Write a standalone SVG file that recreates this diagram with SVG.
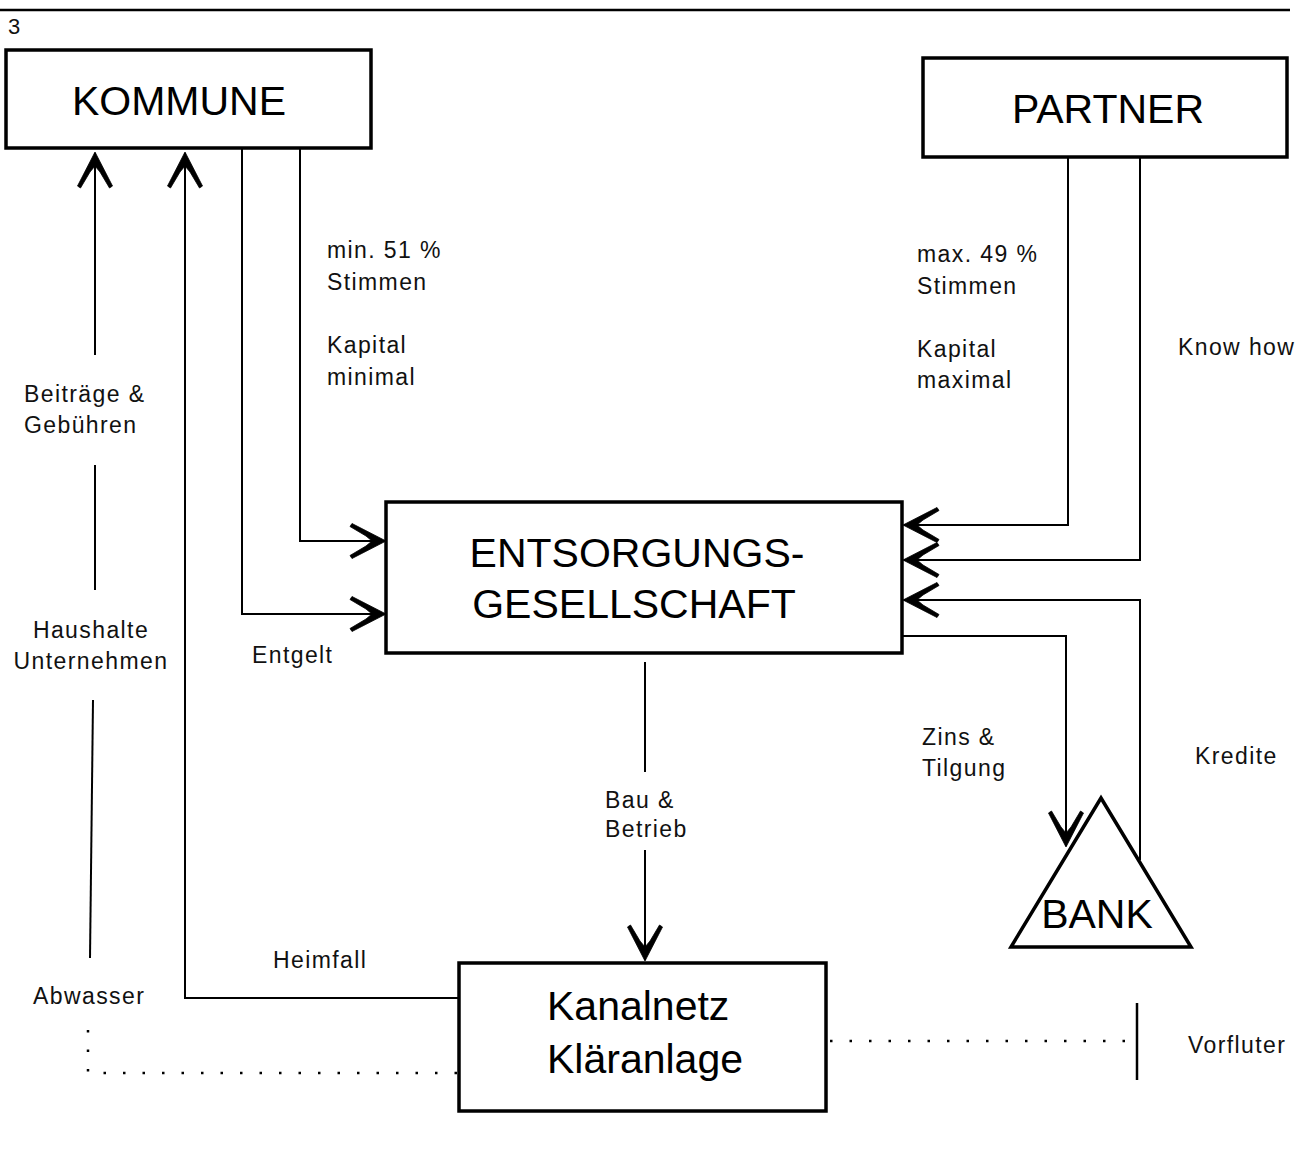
<svg xmlns="http://www.w3.org/2000/svg" width="1305" height="1168" viewBox="0 0 1305 1168">
<defs>
<style>
.box{fill:#fff;stroke:#000;stroke-width:3.5}
.ln{fill:none;stroke:#000;stroke-width:2}
.dot{fill:none;stroke:#000;stroke-width:2.5;stroke-dasharray:2.5 17}
.big{font-family:"Liberation Sans",Arial,sans-serif;font-size:41px;fill:#000}
.lbl{font-family:"Liberation Sans",Arial,sans-serif;font-size:23px;letter-spacing:1.4px;fill:#111}
</style>
<marker id="arr" viewBox="-38 -20 42 40" refX="0" refY="0" markerWidth="42" markerHeight="40" markerUnits="userSpaceOnUse" orient="auto">
<path d="M1,0 L-33,-17.5 L-35,-14.5 L-19,-5 L-13,0 L-19,5 L-35,14.5 L-33,17.5 Z" fill="#000" stroke="#000" stroke-width="0.8" stroke-linejoin="round"/>
</marker>
</defs>
<rect width="1305" height="1168" fill="#fff"/>
<line x1="0" y1="10" x2="1290" y2="10" stroke="#000" stroke-width="2.5"/>
<text x="8" y="34" class="lbl" style="font-size:22px">3</text>

<g id="connectors">
<line class="ln" x1="95" y1="355" x2="95" y2="153" marker-end="url(#arr)"/>
<line class="ln" x1="95" y1="465" x2="95" y2="590"/>
<line class="ln" x1="93" y1="700" x2="90" y2="958"/>
<polyline class="dot" points="88,1030 88,1073 459,1073"/>
<polyline class="ln" points="459,998 185,998 185,153" marker-end="url(#arr)"/>
<polyline class="ln" points="242,148 242,614 385,614" marker-end="url(#arr)"/>
<polyline class="ln" points="300,148 300,541 385,541" marker-end="url(#arr)"/>
<polyline class="ln" points="1068,157 1068,525 904,525" marker-end="url(#arr)"/>
<polyline class="ln" points="1140,157 1140,560 904,560" marker-end="url(#arr)"/>
<polyline class="ln" points="1140,860 1140,600 904,600" marker-end="url(#arr)"/>
<polyline class="ln" points="902,636 1066,636 1066,846" marker-end="url(#arr)"/>
<line class="ln" x1="645" y1="662" x2="645" y2="772"/>
<line class="ln" x1="645" y1="850" x2="645" y2="960" marker-end="url(#arr)"/>
<line class="dot" x1="830" y1="1041" x2="1130" y2="1041"/>
<line x1="1137" y1="1003" x2="1137" y2="1080" stroke="#000" stroke-width="2.5"/>
</g>

<g id="kommune">
<rect class="box" x="6" y="50" width="365" height="98"/>
<text class="big" x="179" y="115" text-anchor="middle">KOMMUNE</text>
</g>
<g id="partner">
<rect class="box" x="923" y="58" width="364" height="99"/>
<text class="big" x="1108" y="123" text-anchor="middle">PARTNER</text>
</g>
<g id="entsorgung">
<rect class="box" x="386" y="502" width="516" height="151"/>
<text class="big" x="637" y="567" text-anchor="middle">ENTSORGUNGS-</text>
<text class="big" x="634" y="618" text-anchor="middle">GESELLSCHAFT</text>
</g>
<g id="kanalnetz">
<rect class="box" x="459" y="963" width="367" height="148"/>
<text class="big" x="547" y="1020">Kanalnetz</text>
<text class="big" x="547" y="1073">Kläranlage</text>
</g>
<g id="bank">
<polygon points="1101,798 1011,947 1191,947" fill="#fff" stroke="#000" stroke-width="3.5" stroke-linejoin="miter"/>
<text class="big" x="1097" y="928" text-anchor="middle">BANK</text>
</g>

<g id="labels">
<text class="lbl" x="327" y="258">min. 51 %</text>
<text class="lbl" x="327" y="290">Stimmen</text>
<text class="lbl" x="327" y="353">Kapital</text>
<text class="lbl" x="327" y="385">minimal</text>
<text class="lbl" x="917" y="262">max. 49 %</text>
<text class="lbl" x="917" y="294">Stimmen</text>
<text class="lbl" x="917" y="357">Kapital</text>
<text class="lbl" x="917" y="388">maximal</text>
<text class="lbl" x="1178" y="355">Know how</text>
<text class="lbl" x="24" y="402">Beiträge &amp;</text>
<text class="lbl" x="24" y="433">Gebühren</text>
<text class="lbl" x="91" y="638" text-anchor="middle">Haushalte</text>
<text class="lbl" x="91" y="669" text-anchor="middle">Unternehmen</text>
<text class="lbl" x="252" y="663">Entgelt</text>
<text class="lbl" x="33" y="1004">Abwasser</text>
<text class="lbl" x="273" y="968">Heimfall</text>
<text class="lbl" x="605" y="808">Bau &amp;</text>
<text class="lbl" x="605" y="837">Betrieb</text>
<text class="lbl" x="922" y="745">Zins &amp;</text>
<text class="lbl" x="922" y="776">Tilgung</text>
<text class="lbl" x="1195" y="764">Kredite</text>
<text class="lbl" x="1188" y="1053">Vorfluter</text>
</g>
</svg>
